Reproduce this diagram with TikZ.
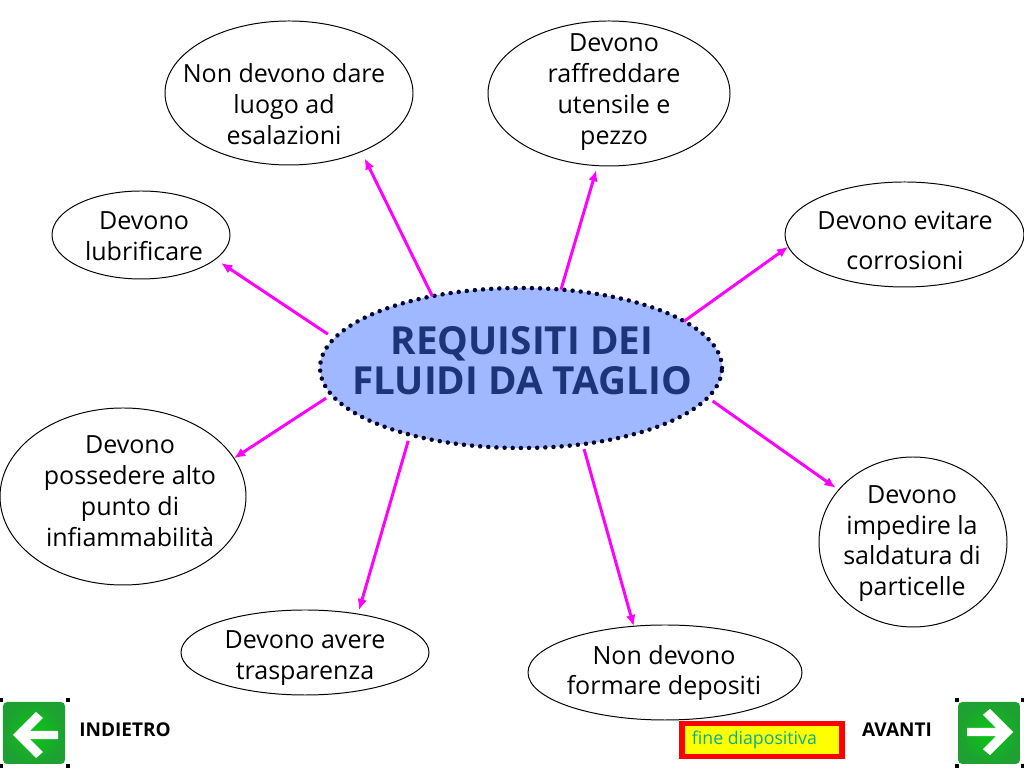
\documentclass[tikz,border=0pt]{standalone}
\usepackage{fontspec}
\setmainfont{Open Sans}
\usetikzlibrary{arrows.meta}
\usetikzlibrary{shapes.geometric}
\definecolor{fillblue}{RGB}{160,184,255}
\definecolor{titleblue}{RGB}{28,52,120}
\definecolor{dotblue}{RGB}{4,8,50}
\definecolor{tealtext}{RGB}{0,176,150}
\definecolor{btngreen}{RGB}{10,200,20}
\definecolor{btndark}{RGB}{30,160,50}
\definecolor{arrowpink}{RGB}{255,0,255}
\definecolor{boxred}{RGB}{255,0,0}
\definecolor{boxyellow}{RGB}{255,255,0}

\tikzset{
  bubble/.style={draw, ellipse, inner sep=0pt, outer sep=0pt, line width=0.7pt},
  bubbletext/.style={align=center, font=\fontsize{17.8}{22}\selectfont},
  smalltext/.style={font=\bfseries\fontsize{13.5}{15}\selectfont},
  arrowline/.style={arrowpink, line width=2.1pt, -{Latex[length=2.8mm,width=2.4mm]}},
  button/.style={rounded corners=3pt, inner color=btngreen, outer color=btndark},
  handle/.style={fill=black, inner sep=0pt, minimum size=2.2pt}
}

\begin{document}
\begin{tikzpicture}
\useasboundingbox (0,0) rectangle (25.6,19.2);

% centre
\node[ellipse, inner sep=0pt, outer sep=0pt, fill=fillblue, draw=dotblue, line width=3.2pt, line cap=round, dash pattern=on 0pt off 5.8pt, minimum width=10.05cm, minimum height=4cm] (main) at (13.025,10.0) {};
\node[align=center, text=titleblue, font=\bfseries\fontsize{27.5}{28.4}\selectfont] (maintext) at (13.05,10.175) {REQUISITI DEI\\FLUIDI DA TAGLIO};

% bubbles
\node[bubble, minimum width=6.2cm, minimum height=3.6cm] (dare) at (7.225,16.875) {};
\node[bubble, minimum width=6.05cm, minimum height=3.625cm] (raff) at (15.225,16.8625) {};
\node[bubble, minimum width=5.975cm, minimum height=2.625cm] (evit) at (22.6125,13.3375) {};
\node[bubble, minimum width=4.45cm, minimum height=2.2cm] (lubr) at (3.525,13.325) {};
\node[bubble, minimum width=6.15cm, minimum height=4.425cm] (poss) at (3.075,6.7875) {};
\node[bubble, minimum width=4.7cm, minimum height=4.25cm] (impe) at (22.825,5.65) {};
\node[bubble, minimum width=6.2cm, minimum height=2.125cm] (aver) at (7.625,2.8875) {};
\node[bubble, minimum width=6.85cm, minimum height=2.375cm] (form) at (16.625,2.3875) {};

\node[bubbletext] (daretext) at (7.1,16.6) {Non devono dare\\luogo ad\\esalazioni};
\node[bubbletext] (rafftext) at (15.35,16.9) {Devono\\raffreddare\\utensile e\\pezzo};
\node[bubbletext, font=\fontsize{17.8}{28.4}\selectfont] (evittext) at (22.625,13.2) {Devono evitare\\corrosioni};
\node[bubbletext] (lubrtext) at (3.6,13.3) {Devono\\lubrificare};
\node[bubbletext] (posstext) at (3.25,6.925) {Devono\\possedere alto\\punto di\\infiammabilità};
\node[bubbletext] (impetext) at (22.8,5.61) {Devono\\impedire la\\saldatura di\\particelle};
\node[bubbletext] (avertext) at (7.625,2.75) {Devono avere\\trasparenza};
\node[bubbletext] (formtext) at (16.6,2.375) {Non devono\\formare depositi};

% arrows
\draw[arrowline, shorten >=0.19cm] (main.141) -- (dare.321.8);
\draw[arrowline, shorten >=0.115cm] (main.63.7) -- (raff.261.6);
\draw[arrowline] (main.16.3) -- (evit.186.1);
\draw[arrowline, shorten <=0.19cm, shorten >=0.17cm] (main.171.3) -- (lubr.342);
\draw[arrowline, shorten <=0.16cm] (main.188.7) -- (poss.19.8);
\draw[arrowline, shorten <=0.16cm, shorten >=0.1cm] (main.211) -- (aver.36.6);
\draw[arrowline, shorten <=0.13cm] (main.309.5) -- (form.124.3);
\draw[arrowline, shorten <=0.15cm, shorten >=0.09cm] (main.351.4) -- (impe.145.9);

% left button
\shade[button] (0.075,0.1) rectangle (1.625,1.65);
\fill[white] (0.325,0.825) -- (0.9,1.4) -- (1.075,1.25) -- (0.75,0.93) -- (1.45,0.93) -- (1.45,0.72) -- (0.75,0.72) -- (1.075,0.4) -- (0.9,0.25) -- cycle;
\node[handle] (hla) at (0.03,1.7) {};
\node[handle] (hlb) at (1.7,1.7) {};
\node[handle] (hlc) at (0.03,0.05) {};
\node[handle] (hld) at (1.7,0.05) {};
\node[smalltext] (back) at (3.125,0.95) {INDIETRO};

% right button
\shade[button] (23.95,0.1) rectangle (25.5,1.65);
\fill[white] (25.325,0.9) -- (24.75,1.48) -- (24.575,1.33) -- (24.9,1.005) -- (24.175,1.005) -- (24.175,0.795) -- (24.9,0.795) -- (24.575,0.47) -- (24.75,0.32) -- cycle;
\node[handle] (hra) at (23.925,1.7) {};
\node[handle] (hrb) at (25.57,1.7) {};
\node[handle] (hrc) at (23.925,0.05) {};
\node[handle] (hrd) at (25.57,0.05) {};
\node[smalltext] (next) at (22.425,0.95) {AVANTI};

% end box
\node[draw=boxred, fill=boxyellow, line width=3.6pt, inner sep=0pt, outer sep=0pt, minimum width=4.0cm, minimum height=0.82cm, text=tealtext, font=\fontsize{12.6}{14}\selectfont] (fine) at (19.05,0.7) {fine diapositiva\hspace{0.38cm}\mbox{}};

\end{tikzpicture}
\end{document}
